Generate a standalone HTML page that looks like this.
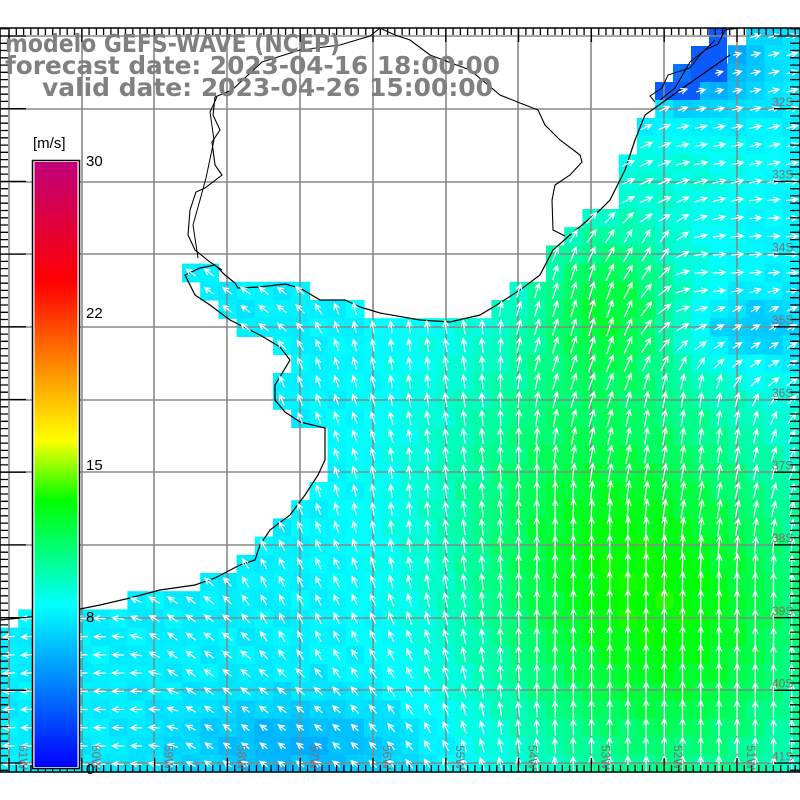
<!DOCTYPE html>
<html><head><meta charset="utf-8"><style>
html,body{margin:0;padding:0;background:#fff;width:800px;height:800px;overflow:hidden}
svg{display:block}
</style></head><body>
<svg id="s" width="800" height="800" xmlns="http://www.w3.org/2000/svg">
<defs>
<linearGradient id="cb" x1="0" y1="1" x2="0" y2="0">
<stop offset="0" stop-color="#0000ff"/>
<stop offset="0.267" stop-color="#00ffff"/>
<stop offset="0.44" stop-color="#00ff00"/>
<stop offset="0.54" stop-color="#ffff00"/>
<stop offset="0.64" stop-color="#ffa000"/>
<stop offset="0.8" stop-color="#ff0000"/>
<stop offset="1" stop-color="#c0007a"/>
</linearGradient>
</defs>
<g id="cells"></g><g id="grid"></g><g id="coast"></g><g id="arrows"></g><g id="ticks"></g><g id="over"></g>
</svg>
<script>
var NS="http://www.w3.org/2000/svg";
function el(p,t,a){var e=document.createElementNS(NS,t);for(var k in a)e.setAttribute(k,a[k]);document.getElementById(p).appendChild(e);return e;}
var ocean=[[0,620],[50,615],[100,605],[130,598],[160,590],[195,585],[215,578],[240,565],[255,560],[260,545],[270,530],[290,515],[305,495],[318,475],[325,460],[325,428],[300,422],[285,412],[275,400],[275,385],[290,360],[280,347],[260,335],[230,320],[210,305],[195,295],[185,275],[200,268],[215,265],[225,275],[235,283],[238,288],[260,287],[285,284],[300,288],[320,300],[345,300],[360,307],[380,313],[420,320],[450,322],[480,315],[495,306],[520,290],[540,275],[553,250],[570,235],[600,210],[610,200],[625,170],[635,140],[645,115],[680,90],[730,55],[765,28],[800,28],[800,772],[0,772]];
function inPoly(x,y,P){var c=false;for(var i=0,j=P.length-1;i<P.length;j=i++){var xi=P[i][0],yi=P[i][1],xj=P[j][0],yj=P[j][1];if(((yi>y)!=(yj>y))&&(x<(xj-xi)*(y-yi)/(yj-yi)+xi))c=!c;}return c;}
function g(x,y,cx,cy,sx,sy){var dx=(x-cx)/sx,dy=(y-cy)/sy;return Math.exp(-(dx*dx+dy*dy));}
function speed(x,y){var s=7.5+4.8*g(x,y,680,620,170,190)+3.3*g(x,y,610,300,70,80)+2.6*g(x,y,560,480,150,200)-2.0*g(x,y,300,745,120,45)-2.0*g(x,y,750,330,70,35)-3*g(x,y,700,60,60,50)+1.0*g(x,y,680,170,100,50);
 s+=0.35*Math.sin(x*0.37+y*0.21)*Math.cos(y*0.29-x*0.11);return s;}
var stops=[[0,[0,0,255]],[8,[0,255,255]],[13.2,[0,255,0]],[16.2,[255,255,0]],[19.2,[255,160,0]],[24,[255,0,0]],[30,[192,0,122]]];
function col(s){for(var i=0;i<stops.length-1;i++){var a=stops[i],b=stops[i+1];if(s<=b[0]){var t=Math.max(0,(s-a[0])/(b[0]-a[0]));var c=a[1].map(function(v,k){return Math.round(v+(b[1][k]-v)*t)});return "rgb("+c.join(",")+")";}}return "rgb(192,0,122)";}
var anchors=[[50,650,-1,0.05],[120,700,-1,0],[200,650,-0.8,-0.6],[250,720,-0.8,-0.6],[230,300,-0.8,-0.6],[300,600,-0.45,-0.9],[330,420,-0.35,-0.95],[420,500,-0.12,-1],[600,600,0,-1],[750,650,0,-1],[420,350,-0.15,-1],[580,300,0.3,-1],[640,240,0.5,-0.85],[720,270,1,-0.1],[780,250,1,-0.05],[750,330,0.8,-0.5],[700,150,1,-0.2],[750,80,1,-0.25],[650,200,0.9,-0.4],[640,120,0.9,-0.45],[700,420,0.15,-1]];
function vec(x,y){var u=0,v=0,w=0;anchors.forEach(function(a){var d=(x-a[0])*(x-a[0])+(y-a[1])*(y-a[1]);var ww=1/Math.pow(d+100,2);u+=a[2]*ww;v+=a[3]*ww;w+=ww;});u/=w;v/=w;var n=Math.hypot(u,v)||1;return [u/n,v/n];}
var C=18.2,x0=0,y0=8.8;
var ar="";
for(var i=0;i<44;i++)for(var j=0;j<44;j++){
 var x=x0+i*C,y=y0+j*C;if(y+C<28||y>772)continue;var cx=x+C/2,cy=y+C/2;
 if(!inPoly(cx,cy,ocean))continue;
 var s=speed(cx,cy);var yt=Math.max(y,28),yb=Math.min(y+C,772);
 el("cells","rect",{x:x.toFixed(1),y:yt.toFixed(1),width:(C+0.6).toFixed(1),height:(yb-yt+0.6).toFixed(1),fill:col(s)});
 if(cy<32||cy>770)continue;
 var d=vec(cx,cy),L=Math.min(22,1.55*s);
 var tx=cx-d[0]*L/2,ty=cy-d[1]*L/2,hx=cx+d[0]*L/2,hy=cy+d[1]*L/2;
 var a=Math.atan2(d[1],d[0]),h=6.5;
 var h1x=hx-h*Math.cos(a-0.45),h1y=hy-h*Math.sin(a-0.45),h2x=hx-h*Math.cos(a+0.45),h2y=hy-h*Math.sin(a+0.45);
 ar+="M"+tx.toFixed(1)+" "+ty.toFixed(1)+"L"+hx.toFixed(1)+" "+hy.toFixed(1)+"M"+h1x.toFixed(1)+" "+h1y.toFixed(1)+"L"+hx.toFixed(1)+" "+hy.toFixed(1)+"L"+h2x.toFixed(1)+" "+h2y.toFixed(1);
}
[[709,28,18,18],[691,46,36,18],[673,64,54,18],[655,82,45,18]].forEach(function(r){el("cells","rect",{x:r[0],y:r[1],width:r[2],height:r[3],fill:"#0a5cff"});});
el("cells","rect",{x:673,y:64,width:18,height:18,fill:"#0a70ff"});
el("arrows","path",{d:ar,stroke:"#fff","stroke-width":"1.3",fill:"none"});
var gx=[9,82,154,227,300,373,446,518,591,664,737],gy=[36,109,182,254,327,400,472,545,618,690,763];
gx.forEach(function(v){el("grid","line",{x1:v,y1:28,x2:v,y2:772,stroke:"#888","stroke-width":"1.6"});});
gy.forEach(function(v){el("grid","line",{x1:0,y1:v,x2:800,y2:v,stroke:"#888","stroke-width":"1.6"});});
var cp=ocean.slice(0,ocean.length-4).map(function(p){return p.join(",")}).join(" ");
el("coast","polyline",{points:cp,fill:"none",stroke:"#000","stroke-width":"1.2"});
el("coast","polyline",{points:"380,28 395,35 410,40 430,55 470,70 500,95 520,103 538,110 545,125 560,140 580,155 582,162 570,175 555,185 552,200 553,230 565,236",fill:"none",stroke:"#000","stroke-width":"1.1"});
el("coast","polyline",{points:"380,28 370,36 340,45 300,50 262,62 232,90 215,97 213,115 220,130 212,142 215,165 222,175 205,188 196,192 190,210 188,235 195,250 210,262 222,270",fill:"none",stroke:"#000","stroke-width":"1.1"});
el("coast","polyline",{points:"217,97 210,112 214,140 206,178 200,200 193,225 198,258",fill:"none",stroke:"#000","stroke-width":"1"});
el("coast","polyline",{points:"660,100 675,88 690,62 705,50 718,44 725,30 740,28",fill:"none",stroke:"#000","stroke-width":"1"});
el("coast","polyline",{points:"655,102 650,96 662,88 668,75 690,68 700,55 715,40",fill:"none",stroke:"#000","stroke-width":"1"});
var t="";
for(var k=0;k<=110;k++){var x=9+k*72.8/10;if(x>800)break;var big=(k%10==0);t+="M"+x.toFixed(1)+" 28v"+(big?14:7)+"M"+x.toFixed(1)+" 772v-"+(big?14:7);}
for(var k=-2;k<=110;k++){var y=36+k*72.7/10;if(y<28||y>772)continue;var big=((k%10)+10)%10==0;t+="M800 "+y.toFixed(1)+"h-"+(big?26:10)+"M0 "+y.toFixed(1)+"h"+(big?26:8);}
el("ticks","path",{d:t,stroke:"#000","stroke-width":"1.3",fill:"none"});
el("ticks","rect",{x:0,y:28,width:800,height:744,fill:"none",stroke:"#000","stroke-width":"1.5"});
["32S","33S","34S","35S","36S","37S","38S","39S","40S","41S"].forEach(function(l,i){var e=el("over","text",{x:772,y:109+i*72.7-3,"font-family":"Liberation Sans, sans-serif","font-size":"12",fill:"#8a6a70"});e.textContent=l;});
["61W","60W","59W","58W","57W","56W","55W","54W","53W","52W","51W"].forEach(function(l,i){var x=9+i*72.8+10,y=745;var e=el("over","text",{x:x,y:y,"font-family":"Liberation Sans, sans-serif","font-size":"12",fill:"#8a6a70",transform:"rotate(90 "+x+" "+y+")"});e.textContent=l;});
el("over","rect",{x:32.5,y:160.5,width:47,height:608,fill:"#fff",stroke:"#000","stroke-width":"1.5"});
el("over","rect",{x:34.5,y:162,width:43,height:605,fill:"url(#cb)"});
[["30",166],["22",318],["15",470],["8",622],["0",774]].forEach(function(a){var e=el("over","text",{x:86,y:a[1],"font-family":"Liberation Sans, sans-serif","font-size":"15",fill:"#000"});e.textContent=a[0];});
var e=el("over","text",{x:33,y:148,"font-family":"Liberation Sans, sans-serif","font-size":"15",fill:"#000"});e.textContent="[m/s]";
[["modelo GEFS-WAVE (NCEP)",5,52],["forecast date: 2023-04-16 18:00:00",5,74],["valid date: 2023-04-26 15:00:00",42,96]].forEach(function(a){var e=el("over","text",{x:a[1],y:a[2],"font-family":"DejaVu Sans, Liberation Sans, sans-serif","font-weight":"bold","font-size":"25",fill:"#808080",textLength:(a[0].length*14.55).toFixed(0),lengthAdjust:"spacingAndGlyphs"});e.textContent=a[0];});
</script>
</body></html>
